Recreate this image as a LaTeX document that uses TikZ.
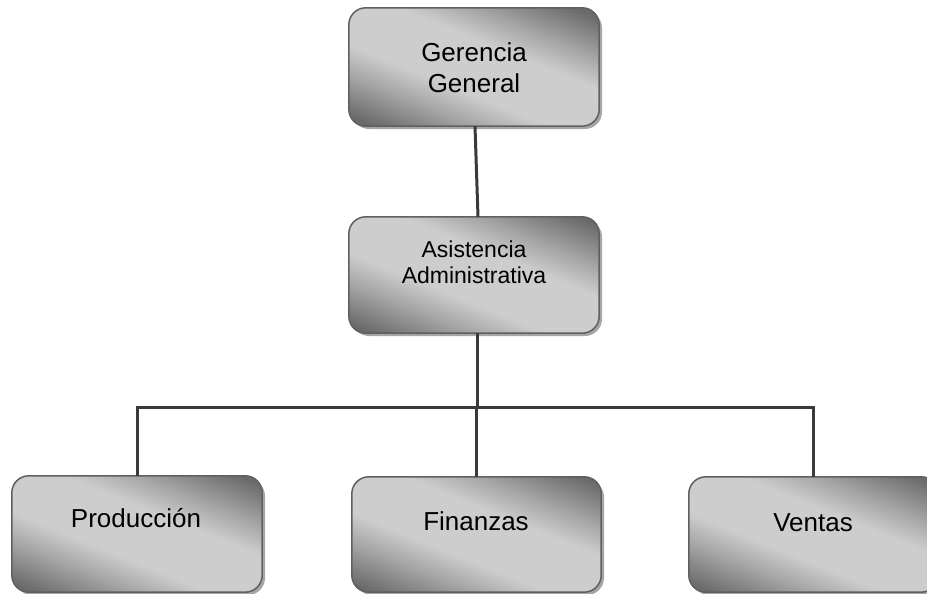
\documentclass[tikz,border=0pt]{standalone}
\usepackage{fontspec}
\setmainfont{Liberation Sans}
\usetikzlibrary{shadows,calc}

\definecolor{gdark}{HTML}{6A6A6A}
\definecolor{gmid}{HTML}{A4A4A4}
\definecolor{glight}{HTML}{CDCDCD}
\definecolor{boxedge}{HTML}{606060}
\definecolor{linkcol}{HTML}{3A3A3A}

% metallic band: dark corners, broad light middle
% (the part between 25bp and 75bp is what fills the path)
\pgfdeclareverticalshading{orgmetal}{100bp}{%
  color(0bp)=(gdark); color(29bp)=(gdark); color(37.5bp)=(gmid);
  color(44bp)=(glight); color(56bp)=(glight);
  color(62.5bp)=(gmid); color(71bp)=(gdark); color(100bp)=(gdark)}

\tikzset{
  orgbox/.style={
    rectangle, rounded corners=17pt, fill=gdark,
    drop shadow={shadow xshift=3pt, shadow yshift=-3pt, fill=black, opacity=0.35},
    inner sep=0pt
  },
  bigtxt/.style={anchor=base, inner sep=0pt, font=\fontsize{26}{30}\selectfont},
  smalltxt/.style={anchor=base, inner sep=0pt, font=\fontsize{23}{26}\selectfont},
  link/.style={draw=linkcol, line width=3pt}
}

% shaded face and outline of a box node
\newcommand\metalface[1]{%
  \begin{scope}
    \clip[rounded corners=17pt] (#1.south west) rectangle (#1.north east);
    \begin{scope}[transform canvas={rotate around={-22:(#1.center)}}]
      \shade[shading=orgmetal] ($(#1.center)+(-220,-110)$) rectangle ($(#1.center)+(220,110)$);
    \end{scope}
  \end{scope}
  \draw[boxedge, line width=1.5pt, rounded corners=17pt] (#1.south west) rectangle (#1.north east);
}

\begin{document}
\begin{tikzpicture}[x=1pt, y=-1pt]
\useasboundingbox (0,0) rectangle (927,594);

\coordinate (bar) at (477,407);

% boxes
\node[orgbox, minimum width=250pt, minimum height=118pt] (ger) at (474,67) {};
\node[orgbox, minimum width=250pt, minimum height=116pt] (asi) at (474,275) {};
\node[orgbox, minimum width=250pt, minimum height=116pt] (pro) at (137,534) {};
\node[orgbox, minimum width=249pt, minimum height=115pt] (fin) at (476.5,534.5) {};
\node[orgbox, minimum width=249pt, minimum height=115pt] (ven) at (813.5,534.5) {};
\metalface{ger}
\metalface{asi}
\metalface{pro}
\metalface{fin}
\metalface{ven}

% connectors
\draw[link] ([xshift=1pt]ger.south) -- ([xshift=4pt]asi.north);
\draw[link] ([xshift=3pt]asi.south) -- ([xshift=3pt]asi.south |- bar);
\draw[link] (pro.north) |- (bar) -| (ven.north);
\draw[link] (fin.north) -- (fin.north |- bar);

% labels
\node[bigtxt] (gerA) at (474,62) {Gerencia};
\node[bigtxt] (gerB) at (474,92.5) {General};
\node[smalltxt] (asiA) at (474,257) {Asistencia};
\node[smalltxt] (asiB) at (474,283) {Administrativa};
\node[bigtxt] (proT) at (136,527) {Producción};
\node[bigtxt] (finT) at (476,530) {Finanzas};
\node[bigtxt] (venT) at (813,531) {Ventas};
\end{tikzpicture}
\end{document}
